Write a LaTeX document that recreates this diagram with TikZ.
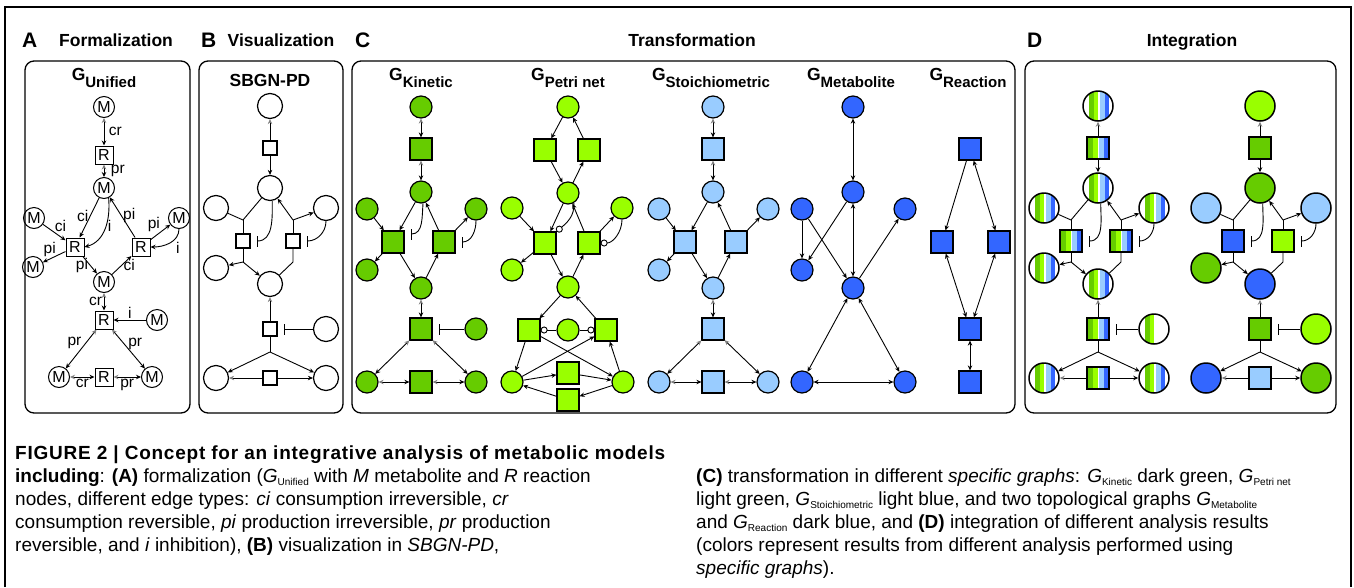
\documentclass[tikz,border=0pt]{standalone}
\usepackage{fontspec}
\setmainfont{Liberation Sans}
\usetikzlibrary{arrows.meta,calc,positioning}

\definecolor{kingreen}{HTML}{66CC00}
\definecolor{petgreen}{HTML}{99FF00}
\definecolor{stoblue}{HTML}{99CCFF}
\definecolor{topblue}{HTML}{3366FF}

\newcommand{\gname}[1]{G\raisebox{-7pt}{\fontsize{15}{15}\selectfont #1}}
\newcommand{\capsub}[2]{\textit{#1}\raisebox{-3pt}{\fontsize{10}{10}\selectfont #2}}

\tikzset{
  blk/.tip={Stealth[length=5pt,width=4.5pt]},
  gry/.tip={Stealth[length=5pt,width=4.5pt,color=gray]},
  conn/.style={line width=0.9pt},
  ar/.style={conn,-blk},
  gar/.style={conn,-gry},
  rv/.style={conn,gry-blk},
  bi/.style={conn,blk-blk},
  inh/.style={conn,-{Bar[width=11pt,line width=1.2pt]}},
  rdarc/.style={conn,-{Circle[open,length=7pt,width=7pt]}},
  panel/.style={draw,line width=1.3pt,rounded corners=9pt},
  lettr/.style={font=\fontsize{21}{21}\selectfont\bfseries,inner sep=0pt,anchor=base west},
  head/.style={font=\fontsize{17.5}{17.5}\selectfont\bfseries,inner sep=0pt,anchor=base},
  lab/.style={font=\fontsize{15.5}{15.5}\selectfont,inner sep=1.5pt},
  capline/.style={font=\fontsize{19}{23}\selectfont,inner sep=0pt,anchor=base west},
  stripes/.style={path picture={
    \foreach \a/\b/\c in {#1}
      \fill[\c] ($(path picture bounding box.north west)!\a!(path picture bounding box.north east)$)
        rectangle ($(path picture bounding box.south west)!\b!(path picture bounding box.south east)$);
  }},
  amet/.style={circle,draw,line width=1pt,minimum size=21pt,inner sep=0pt,font=\fontsize{16}{16}\selectfont},
  area/.style={draw,line width=1pt,minimum size=18pt,inner sep=0pt,font=\fontsize{16}{16}\selectfont},
  cmet/.style={circle,draw,line width=1.2pt,minimum size=22pt,inner sep=0pt},
  crea/.style={draw,line width=1.2pt,minimum size=22pt,inner sep=0pt},
  met-b/.style={circle,draw,fill=white,line width=1.2pt,minimum size=25pt,inner sep=0pt},
  rea-b/.style={draw,fill=white,line width=1.2pt,minimum size=14pt,inner sep=0pt},
  met-d/.style={circle,draw,line width=1.5pt,minimum size=30pt,inner sep=0pt,
    stripes={0.2/0.35/kingreen,0.35/0.5/petgreen,0.55/0.72/stoblue,0.72/0.87/topblue}},
  rea-d/.style={draw,line width=1.5pt,minimum size=22pt,inner sep=0pt,
    stripes={0/0.25/kingreen,0.25/0.48/petgreen,0.54/0.77/stoblue,0.77/1/topblue}},
  d-Mi/.style={stripes={0.2/0.35/kingreen,0.35/0.5/petgreen}},
  met-e/.style={circle,draw,line width=1.5pt,minimum size=30pt,inner sep=0pt},
  rea-e/.style={draw,line width=1.5pt,minimum size=22pt,inner sep=0pt},
  e-M1/.style={fill=petgreen}, e-R1/.style={fill=kingreen}, e-M2/.style={fill=kingreen},
  e-Ml/.style={fill=stoblue}, e-Mr/.style={fill=stoblue}, e-Rl/.style={fill=topblue},
  e-Rr/.style={fill=petgreen}, e-Mlb/.style={fill=kingreen}, e-M3/.style={fill=topblue},
  e-R3/.style={fill=kingreen}, e-Mi/.style={fill=petgreen}, e-Mb1/.style={fill=topblue},
  e-Rb/.style={fill=stoblue}, e-Mb2/.style={fill=kingreen}
}

\begin{document}
\begin{tikzpicture}[x=1pt,y=-1pt]
  \useasboundingbox (0,0) rectangle (1354,587);
  \draw[line width=1.5pt] (5,587) -- (5,7) -- (1351,7) -- (1351,587);

  \node[lettr] (ltA) at (22,47) {A};
  \node[head] (hdA) at (116,46) {Formalization};
  \node[lettr] (ltB) at (201,47) {B};
  \node[head] (hdB) at (281,46) {Visualization};
  \node[lettr] (ltC) at (355,47) {C};
  \node[head] (hdC) at (692,46) {Transformation};
  \node[lettr] (ltD) at (1027,47) {D};
  \node[head] (hdD) at (1192,46) {Integration};

  \draw[panel] (25,61) rectangle (190,413);
  \draw[panel] (199,61) rectangle (343,413);
  \draw[panel] (352,61) rectangle (1015,413);
  \draw[panel] (1025,61) rectangle (1336,413);

  \node[head] (gU) at (104,80) {\gname{Unified}};
  \node[head] (gS) at (270,86) {SBGN-PD};
  \node[head] (gK) at (421,80) {\gname{Kinetic}};
  \node[head] (gP) at (568,80) {\gname{Petri net}};
  \node[head] (gT) at (711,80) {\gname{Stoichiometric}};
  \node[head] (gM) at (851,80) {\gname{Metabolite}};
  \node[head] (gR) at (968,80) {\gname{Reaction}};

  % A: unified graph
  \foreach \n/\x/\y in {M1/104/107, M2/104/188, Ml/34/218, Mr/179/218, Mlb/33/267, M3/104/282, Mi/157/320, Mb1/59/377, Mb2/152/377}
    \node[amet] (a-\n) at (\x,\y) {M};
  \foreach \n/\x/\y in {R1/104/155, Rl/75/247, Rr/141/247, R3/104/320, Rb/104/377}
    \node[area] (a-\n) at (\x,\y) {R};
  \draw[rv] (a-M1) -- node[lab,right=3pt] {cr} (a-R1);
  \draw[rv] (a-R1) -- node[lab,right=5pt] {pr} (a-M2);
  \draw[ar] (a-Ml) -- node[lab,above right=-2pt] {ci} (a-Rl);
  \draw[ar] (a-M2) -- node[lab,left,pos=.45] {ci} (a-Rl);
  \draw[ar] (a-M2.-65) to[out=-85,in=15] node[lab,right,pos=.45] {i} (a-Rl.east);
  \draw[ar] (a-Rr) -- node[lab,right,pos=.55] {pi} (a-M2);
  \draw[ar] (a-Rr) -- node[lab,above left=-2pt] {pi} (a-Mr);
  \draw[ar] (a-Mr.south) to[out=-90,in=0] node[lab,below right,pos=.35] {i} (a-Rr.east);
  \draw[ar] (a-Rl) -- node[lab,above,pos=.7] {pi} (a-Mlb);
  \draw[ar] (a-Rl) -- node[lab,left] {pi} (a-M3);
  \draw[ar] (a-M3) -- node[lab,right] {ci} (a-Rr);
  \draw[rv] (a-M3) -- node[lab,left] {cr} (a-R3);
  \draw[ar] (a-Mi) -- node[lab,above] {i} (a-R3);
  \draw[rv] (a-R3) -- node[lab,above left=-3pt] {pr} (a-Mb1);
  \draw[rv] (a-R3) -- node[lab,above right=-3pt] {pr} (a-Mb2);
  \draw[rv] (a-Mb1) -- node[lab,below] {cr} (a-Rb);
  \draw[rv] (a-Rb) -- node[lab,below] {pr} (a-Mb2);

  % B and D: SBGN-PD layout
  \foreach \g/\cx in {b/270, d/1098, e/1260} {
    \foreach \n/\dx/\y in {M1/0/106, M2/0/188, Ml/-54/208, Mr/56/208, Mlb/-54/268, M3/0/284, Mi/56/329, Mb1/-54/378, Mb2/56/378}
      \node[met-\g, \g-\n/.try] (\g-\n) at ({\cx+\dx},\y) {};
    \foreach \n/\dx/\y in {R1/0/148, Rl/-27/241, Rr/23/241, R3/0/329, Rb/0/378}
      \node[rea-\g, \g-\n/.try] (\g-\n) at ({\cx+\dx},\y) {};
    \coordinate (\g-pa) at ($(\g-Rl)+(0,-21)$);
    \coordinate (\g-pb) at ($(\g-Rl)+(0,21)$);
    \coordinate (\g-pc) at ($(\g-Rr)+(0,-21)$);
    \coordinate (\g-pd) at ($(\g-Rr)+(0,21)$);
    \coordinate (\g-pe) at ($(\g-R3)+(0,23)$);
    \draw[gar] (\g-R1) -- (\g-M1);
    \draw[ar] (\g-R1) -- (\g-M2);
    \draw[conn] (\g-Ml) -- (\g-pa) -- (\g-M2);
    \draw[conn] (\g-pa) -- (\g-Rl);
    \draw[conn] (\g-Rl) -- (\g-pb);
    \draw[ar] (\g-pb) -- (\g-Mlb);
    \draw[ar] (\g-pb) -- (\g-M3);
    \draw[inh] (\g-M2.-80) to[out=-90,in=0] ([xshift=6pt]\g-Rl.east);
    \draw[conn] (\g-Rr) -- (\g-pc);
    \draw[ar] (\g-pc) -- (\g-M2);
    \draw[ar] (\g-pc) -- (\g-Mr);
    \draw[conn] (\g-Rr) -- (\g-pd) -- (\g-M3);
    \draw[inh] (\g-Mr.south) to[out=-90,in=0] ([xshift=6pt]\g-Rr.east);
    \draw[gar] (\g-R3) -- (\g-M3);
    \draw[inh] (\g-Mi) -- ([xshift=6pt]\g-R3.east);
    \draw[conn] (\g-R3) -- (\g-pe);
    \draw[ar] (\g-pe) -- (\g-Mb1);
    \draw[ar] (\g-pe) -- (\g-Mb2);
    \draw[gar] (\g-Rb) -- (\g-Mb1);
    \draw[ar] (\g-Rb) -- (\g-Mb2);
  }

  % C: kinetic and stoichiometric
  \foreach \g/\cx/\fc in {k/421/kingreen, s/713/stoblue} {
    \foreach \n/\dx/\y in {M1/0/107, M2/0/192, Ml/-54/209, Mr/55/209, Mlb/-54/270, M3/0/288, Mb1/-54/382, Mb2/55/382}
      \node[cmet,fill=\fc] (\g-\n) at ({\cx+\dx},\y) {};
    \foreach \n/\dx/\y in {R1/0/149, Rl/-28/242, Rr/23/242, R3/0/329, Rb/0/382}
      \node[crea,fill=\fc] (\g-\n) at ({\cx+\dx},\y) {};
    \draw[rv] (\g-M1) -- (\g-R1);
    \draw[rv] (\g-R1) -- (\g-M2);
    \foreach \a/\b in {Ml/Rl, M2/Rl, Rl/Mlb, Rl/M3, M3/Rr, Rr/M2, Rr/Mr}
      \draw[ar] (\g-\a) -- (\g-\b);
    \draw[rv] (\g-M3) -- (\g-R3);
    \draw[rv] (\g-R3) -- (\g-Mb1);
    \draw[rv] (\g-R3) -- (\g-Mb2);
    \draw[rv] (\g-Mb1) -- (\g-Rb);
    \draw[rv] (\g-Rb) -- (\g-Mb2);
  }
  \node[cmet,fill=kingreen] (k-Mi) at (476,329) {};
  \draw[inh] (k-M2.-80) to[out=-95,in=0] ([xshift=6pt,yshift=8pt]k-Rl.east);
  \draw[inh] (k-Mr.south) to[out=-90,in=0] ([xshift=6pt]k-Rr.east);
  \draw[inh] (k-Mi) -- ([xshift=6pt]k-R3.east);

  % C: petri net
  \foreach \n/\x/\y in {M1/568/107, M2/568/193, Ml/512/208, Mr/622/208, Mlb/512/270, M3/568/287, Mc/568/330, Mb1/512/382, Mb2/623/382}
    \node[cmet,fill=petgreen] (p-\n) at (\x,\y) {};
  \foreach \n/\x/\y in {Ra/545/150, Rb/589/150, Rl/545/243, Rr/589/243, Rc/529/330, Rd/606/330, Re/568/373, Rf/568/400}
    \node[crea,fill=petgreen] (p-\n) at (\x,\y) {};
  \foreach \a/\b in {M1/Ra, Ra/M2, M2/Rb, Rb/M1, Ml/Rl, M2/Rl, Rl/Mlb, Rl/M3, M3/Rr, Rr/M2, Rr/Mr,
      M3/Rc, Rd/M3, Rc/Mb1, Rc/Mb2, Mb1/Rd, Mb2/Rd, Mb1/Re, Re/Mb2, Mb2/Rf, Rf/Mb1}
    \draw[ar] (p-\a) -- (p-\b);
  \draw[rdarc] (p-M2.-60) to[out=-85,in=40] (p-Rl.north east);
  \draw[rdarc] (p-Mr.south) to[out=-90,in=0] (p-Rr.east);
  \draw[rdarc] (p-Mc) -- (p-Rc);
  \draw[rdarc] (p-Mc) -- (p-Rd);

  % C: metabolite and reaction graphs
  \foreach \n/\x/\y in {M1/853/107, M2/853/192, Ml/802/209, Mr/905/209, Mlb/802/270, M3/853/288, Mb1/802/382, Mb2/905/382}
    \node[cmet,fill=topblue] (m-\n) at (\x,\y) {};
  \foreach \a/\b in {M1/M2, M2/M3, M3/Mb1, M3/Mb2, Mb1/Mb2}
    \draw[bi] (m-\a) -- (m-\b);
  \foreach \a/\b in {Ml/Mlb, Ml/M3, M2/Mlb, M3/Mr}
    \draw[ar] (m-\a) -- (m-\b);
  \foreach \n/\x/\y in {R1/970/149, Rl/942/242, Rr/999/242, R3/970/329, Rb/970/382}
    \node[crea,fill=topblue] (r-\n) at (\x,\y) {};
  \draw[ar] (r-R1) -- (r-Rl);
  \foreach \a/\b in {R1/Rr, Rl/R3, Rr/R3, R3/Rb}
    \draw[bi] (r-\a) -- (r-\b);

  % caption
  \node[capline] (cap1) at (15,459) {\addfontfeature{LetterSpace=4}\textbf{FIGURE 2 | Concept for an integrative analysis of metabolic models}};
  \node[capline] (cap2) at (15,482) {\textbf{including}: \textbf{(A)} formalization (\capsub{G}{Unified} with \textit{M} metabolite and \textit{R} reaction};
  \node[capline] (cap3) at (15,505) {nodes, different edge types: \textit{ci} consumption irreversible, \textit{cr}};
  \node[capline] (cap4) at (15,528) {consumption reversible, \textit{pi} production irreversible, \textit{pr} production};
  \node[capline] (cap5) at (15,551) {reversible, and \textit{i} inhibition), \textbf{(B)} visualization in \textit{SBGN-PD},};
  \node[capline] (cap6) at (696,482) {\textbf{(C)} transformation in different \textit{specific graphs}: \capsub{G}{Kinetic} dark green, \capsub{G}{Petri net}};
  \node[capline] (cap7) at (696,505) {light green, \capsub{G}{Stoichiometric} light blue, and two topological graphs \capsub{G}{Metabolite}};
  \node[capline] (cap8) at (696,528) {and \capsub{G}{Reaction} dark blue, and \textbf{(D)} integration of different analysis results};
  \node[capline] (cap9) at (696,551) {(colors represent results from different analysis performed using};
  \node[capline] (cap10) at (696,574) {\textit{specific graphs}).};
\end{tikzpicture}
\end{document}
